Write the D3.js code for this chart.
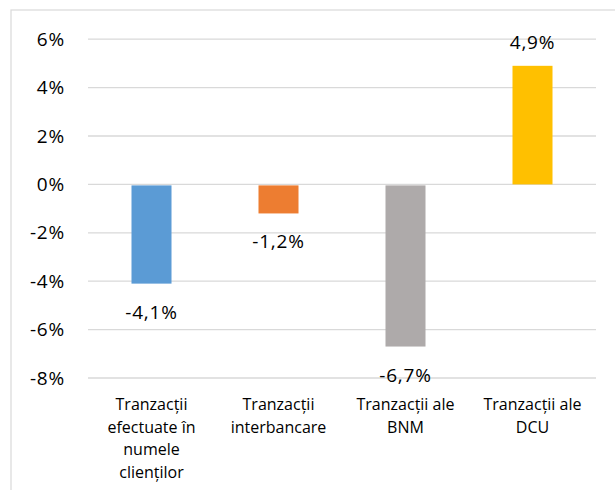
<!DOCTYPE html>
<meta charset="utf-8">
<style>
    html, body {
        margin: 0;
        background: white;
    }

    text {
        font-family: "Open Sans", "Noto Sans", sans-serif;
        fill: #000;
    }

    .grid line {
        stroke: #d9d9d9;
        stroke-width: 1.3px;
    }

    .tick-label, .value-label {
        font-size: 19px;
        letter-spacing: 0.8px;
    }

    .cat-label {
        font-size: 16px;
    }
</style>
<div id="chart"></div>
<script src="https://cdnjs.cloudflare.com/ajax/libs/d3/7.8.5/d3.min.js"></script>
<script>
    // data
    var categories = [
        ["Tranzacții", "efectuate în", "numele", "clienților"],
        ["Tranzacții", "interbancare"],
        ["Tranzacții ale", "BNM"],
        ["Tranzacții ale", "DCU"]
    ];
    var values = [-4.1, -1.2, -6.7, 4.9];
    var colors = ["#5b9bd5", "#ed7d31", "#aeaaaa", "#ffc000"];
    var tickValues = [6, 4, 2, 0, -2, -4, -6, -8];

    var width = 615, height = 490;

    var svg = d3.select("#chart")
        .append("svg")
        .attr("width", width)
        .attr("height", height);

    // chart area outline (runs off right and bottom edges)
    svg.append("rect")
        .attr("x", 11)
        .attr("y", 10)
        .attr("width", 620)
        .attr("height", 500)
        .attr("fill", "none")
        .attr("stroke", "#d9d9d9")
        .attr("stroke-width", 1.2);

    var x = d3.scaleBand()
        .domain(d3.range(values.length))
        .range([88, 596])
        .paddingInner(0.685)
        .paddingOuter(0.3425);

    var y = d3.scaleLinear()
        .domain([-8, 6])
        .range([378, 39.2]);

    // gridlines
    svg.append("g")
        .attr("class", "grid")
        .selectAll("line")
        .data(tickValues)
        .enter().append("line")
        .attr("x1", 88)
        .attr("x2", 596)
        .attr("y1", function(d) { return y(d); })
        .attr("y2", function(d) { return y(d); });

    // y tick labels
    svg.append("g")
        .selectAll("text")
        .data(tickValues)
        .enter().append("text")
        .attr("class", "tick-label")
        .attr("x", 65)
        .attr("y", function(d) { return y(d); })
        .attr("dy", "0.35em")
        .attr("text-anchor", "end")
        .text(function(d) { return d + "%"; });

    // bars
    svg.append("g")
        .selectAll("rect")
        .data(values)
        .enter().append("rect")
        .attr("x", function(d, i) { return x(i); })
        .attr("width", x.bandwidth())
        .attr("y", function(d) { return d > 0 ? y(d) : y(0) + 1; })
        .attr("height", function(d) { return d > 0 ? y(0) - y(d) : y(d) - y(0) - 1; })
        .attr("fill", function(d, i) { return colors[i]; });

    // value labels
    svg.append("g")
        .selectAll("text")
        .data(values)
        .enter().append("text")
        .attr("class", "value-label")
        .attr("x", function(d, i) { return x(i) + x.bandwidth() / 2; })
        .attr("y", function(d) { return d > 0 ? y(d) - 17 : y(d) + 35; })
        .attr("text-anchor", "middle")
        .text(function(d) { return String(d).replace(".", ",") + "%"; });

    // category labels
    var cat = svg.append("g")
        .selectAll("text")
        .data(categories)
        .enter().append("text")
        .attr("class", "cat-label")
        .attr("text-anchor", "middle")
        .attr("x", function(d, i) { return x(i) + x.bandwidth() / 2; })
        .attr("y", 410);

    cat.selectAll("tspan")
        .data(function(d) { return d; })
        .enter().append("tspan")
        .attr("x", function() { return d3.select(this.parentNode).attr("x"); })
        .attr("dy", function(d, i) { return i === 0 ? 0 : 22.7; })
        .text(function(d) { return d; });
</script>
